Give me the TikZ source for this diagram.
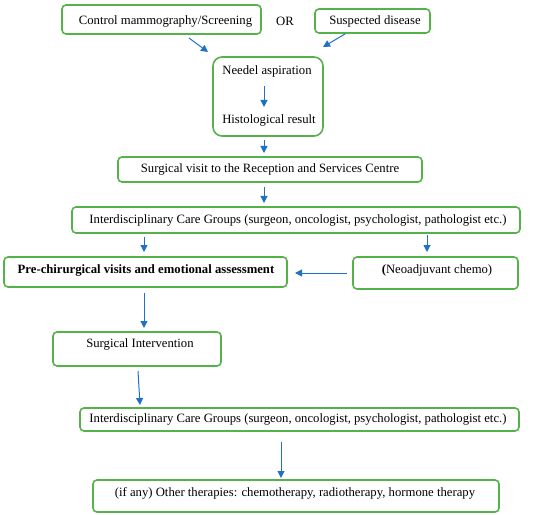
\documentclass[tikz,border=0pt]{standalone}
\usepackage{fontspec}
\setmainfont{Liberation Serif}
\usetikzlibrary{arrows.meta}
\definecolor{boxgreen}{RGB}{84,178,72}
\definecolor{arrblue}{RGB}{32,112,200}
\begin{document}
\begin{tikzpicture}[x=1bp,y=-1bp,
  box/.style={draw=boxgreen,line width=1.6bp,rounded corners=4bp,inner sep=0pt,fill=none},
  txt/.style={inner sep=0pt,font=\fontsize{12.7bp}{15bp}\selectfont},
  arr/.style={draw=arrblue,line width=1bp,-{Triangle[length=7bp,width=7bp]}}]
\useasboundingbox (0,0) rectangle (550,515);
% boxes
\node[box,minimum width=199bp,minimum height=29bp] (b1) at (161.5,19.5) {};
\node[txt] (t1) at (165.5,21) {Control mammography/Screening};
\node[txt] (or) at (285,21.5) {OR};
\node[box,minimum width=115bp,minimum height=24bp] (b2) at (372.5,21) {};
\node[txt] (t2) at (375,21.5) {Suspected disease};
\node[box,rounded corners=9bp,minimum width=110bp,minimum height=79bp] (b3) at (268,96.5) {};
\node[txt] (t3a) at (267,71) {Needel aspiration};
\node[txt] (t3b) at (269,120) {Histological result};
\node[box,txt,minimum width=304bp,minimum height=25bp] (b4) at (270,169.5) {Surgical visit to the Reception and Services Centre};
\node[box,minimum width=448bp,minimum height=26bp] (b5) at (296,220) {};
\node[txt] (t5) at (298,220.5) {Interdisciplinary Care Groups (surgeon, oncologist, psychologist, pathologist etc.)};
\node[box,minimum width=283bp,minimum height=30bp] (b6) at (145.5,272) {};
\node[txt] (t6) at (146,270) {\bfseries Pre-chirurgical visits and emotional assessment};
\node[box,minimum width=165bp,minimum height=32bp] (b7) at (435.5,273) {};
\node[txt] (t7) at (437,270) {\textbf{(}Neoadjuvant chemo)};
\node[box,minimum width=168bp,minimum height=34bp] (b8) at (137,349) {};
\node[txt] (t8) at (140,344) {Surgical Intervention};
\node[box,minimum width=439bp,minimum height=23bp] (b9) at (299.5,419.5) {};
\node[txt] (t9) at (298,419.5) {Interdisciplinary Care Groups (surgeon, oncologist, psychologist, pathologist etc.)};
\node[box,minimum width=406bp,minimum height=32bp] (b10) at (296,496) {};
\node[txt] (t10) at (295,493) {(if any) Other therapies: chemotherapy, radiotherapy, hormone therapy};
% arrow coordinates
\coordinate (a1s) at (189,38); \coordinate (a1e) at (208,52);
\coordinate (a2s) at (345,34); \coordinate (a2e) at (323,47);
\coordinate (a3s) at (264,86); \coordinate (a3e) at (264,107);
\coordinate (a4s) at (264,140); \coordinate (a4e) at (264,153);
\coordinate (a5s) at (264,187); \coordinate (a5e) at (264,203);
\coordinate (a6s) at (144,237); \coordinate (a6e) at (144,252);
\coordinate (a7s) at (427,235); \coordinate (a7e) at (427,252);
\coordinate (a8s) at (347,273); \coordinate (a8e) at (295,273);
\coordinate (a9s) at (144,293); \coordinate (a9e) at (144,328);
\coordinate (a10s) at (138,371); \coordinate (a10e) at (140,405);
\coordinate (a11s) at (281,442); \coordinate (a11e) at (281,478);
\draw[arr] (a1s) -- (a1e);
\draw[arr] (a2s) -- (a2e);
\draw[arr] (a3s) -- (a3e);
\draw[arr] (a4s) -- (a4e);
\draw[arr] (a5s) -- (a5e);
\draw[arr] (a6s) -- (a6e);
\draw[arr] (a7s) -- (a7e);
\draw[arr] (a8s) -- (a8e);
\draw[arr] (a9s) -- (a9e);
\draw[arr] (a10s) -- (a10e);
\draw[arr] (a11s) -- (a11e);
\end{tikzpicture}
\end{document}
